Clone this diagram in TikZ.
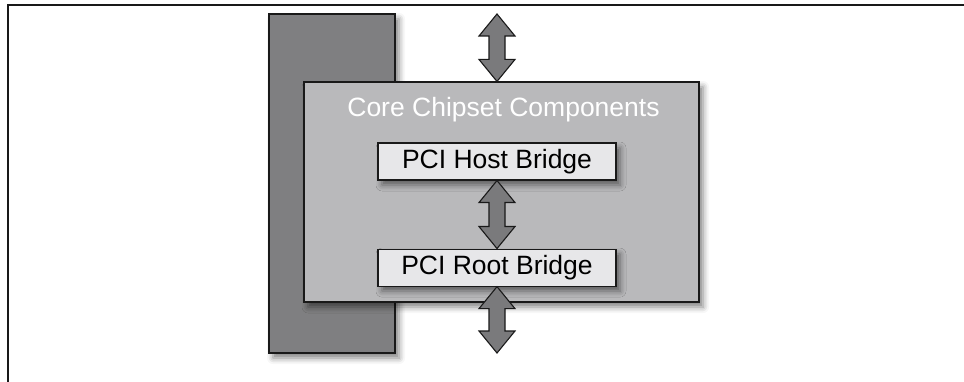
\documentclass[tikz,border=0pt]{standalone}
\usepackage{fontspec}
\setmainfont{Liberation Sans}
\usetikzlibrary{positioning, calc, shadows.blur}

\definecolor{slabgray}{RGB}{127,127,129}
\definecolor{coregray}{RGB}{185,185,187}
\definecolor{bridgegray}{RGB}{231,231,233}
\definecolor{busgray}{RGB}{122,122,124}
\definecolor{edgegray}{RGB}{25,25,25}

\begin{document}
\begin{tikzpicture}[
  x=1pt, y=-1pt,
  boxshadow/.style={blur shadow={shadow xshift=4pt, shadow yshift=-5pt,
                    shadow blur radius=6pt, shadow opacity=50}},
  panel/.style={draw=edgegray, line width=1.1pt, inner sep=0pt,
                boxshadow},
  bridge/.style={panel, fill=bridgegray, minimum width=238pt,
                 minimum height=37pt, font=\fontsize{26.5}{30}\selectfont},
  fatarr/.style={draw=edgegray, line width=1.1pt, fill=busgray,
    to path={-- ($(\tikztostart)+(18pt,-22pt)$)
             -- ($(\tikztostart)+(8pt,-22pt)$)
             -- ($(\tikztotarget)+(8pt,22pt)$)
             -- ($(\tikztotarget)+(18pt,22pt)$)
             -- (\tikztotarget)
             -- ($(\tikztotarget)+(-18pt,22pt)$)
             -- ($(\tikztotarget)+(-8pt,22pt)$)
             -- ($(\tikztostart)+(-8pt,-22pt)$)
             -- ($(\tikztostart)+(-18pt,-22pt)$)
             -- cycle}}
]
  \useasboundingbox (0,0) rectangle (964,382);
  % partial frame
  \draw[line width=1.4pt, edgegray] (964,5) -- (8,5) -- (8,382);

  \node (slab) [panel, fill=slabgray, minimum width=126pt,
                minimum height=339pt] at (332,183.5) {};
  \node (core) [panel, fill=coregray, minimum width=395pt,
                minimum height=220pt] at (501.5,192) {};
  \node (title) [white, font=\fontsize{26.5}{30}\selectfont]
                at (503.5,110) {Core Chipset Components};

  \node (host) [bridge] at (497,161.5) {PCI Host Bridge};
  \node (root) [bridge, below=68pt of host] {PCI Root Bridge};

  \coordinate (busup)   at (497,14);
  \coordinate (busdown) at (497,353);

  \draw[fatarr] (busup) to (core.north -| host);
  \draw[fatarr] (host.south) to (root.north);
  \draw[fatarr] (root.south) to (busdown);
\end{tikzpicture}
\end{document}
